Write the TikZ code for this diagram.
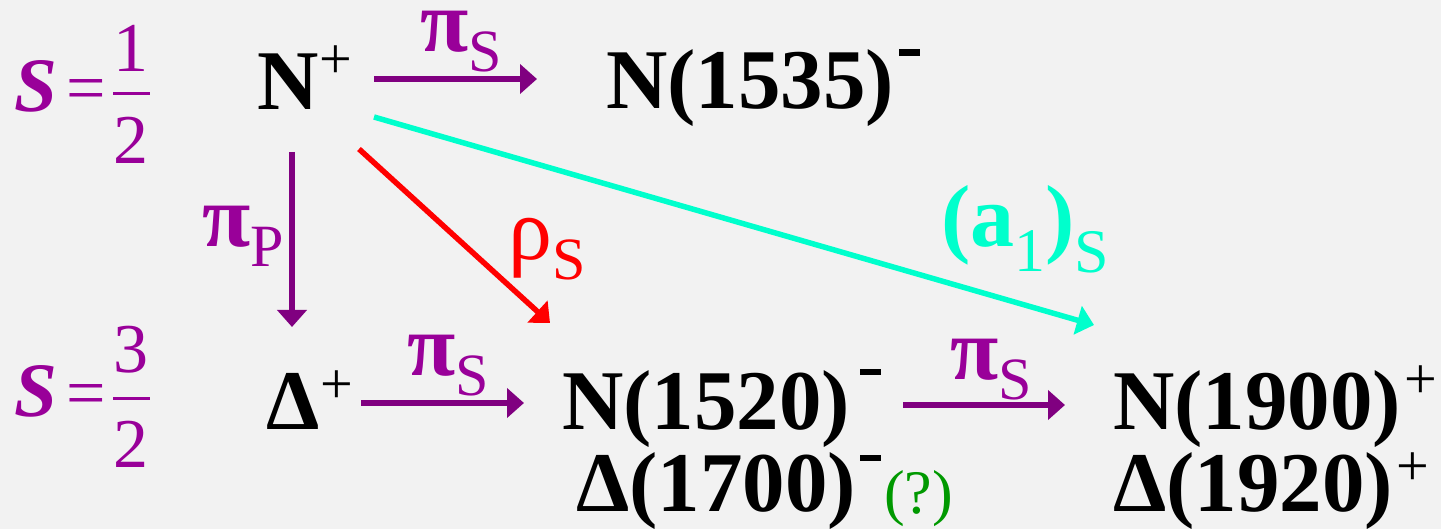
\documentclass[tikz,border=0pt]{standalone}
\usepackage{fontspec}
\setmainfont{Liberation Serif}
\usetikzlibrary{arrows.meta}
\definecolor{bg}{HTML}{F2F2F2}
\definecolor{lblpurple}{HTML}{990099}
\definecolor{arrpurple}{HTML}{800080}
\definecolor{cyanc}{HTML}{00FFCC}
\definecolor{redc}{HTML}{FF0000}
\definecolor{greenc}{HTML}{009900}
\newcommand\partfont{\fontsize{85}{90}\selectfont\bfseries}
\newcommand\supplus[3]{\kern#3pt\raisebox{#2pt}{\fontsize{#1}{#1}\selectfont\mdseries +}}
\newcommand\supminus[2]{\kern#1pt\rule[#2pt]{21pt}{6.5pt}}
\newcommand\lsub[1]{\raisebox{-20pt}{\fontsize{60}{60}\selectfont\mdseries #1}}
\newcommand\spinS{{\fontsize{77}{80}\selectfont\bfseries\itshape S}}
\begin{document}
\begin{tikzpicture}[x=1pt,y=-1pt,
  part/.style={inner sep=0pt, anchor=base west, font=\partfont},
  lbl/.style={inner sep=0pt, anchor=base west, font=\fontsize{88}{90}\selectfont},
  spin/.style={inner sep=0pt, text=lblpurple, font=\fontsize{70}{72}\selectfont},
  arr/.style={line width=5.5pt, -{Triangle[length=17pt,width=29pt]}},
]
\fill[bg] (0,0) rectangle (1441,529);
\useasboundingbox (0,0) rectangle (1441,529);

% spin labels
\node[spin, anchor=base west] (s1) at (14,112) {\spinS\kern9pt=};
\node[spin, anchor=base] (n1) at (131,72) {1};
\node[spin, anchor=base] (d1) at (131,164) {2};
\draw[lblpurple, line width=3pt] (113,94) -- (150,94);
\node[spin, anchor=base west] (s3) at (14,416) {\spinS\kern9pt=};
\node[spin, anchor=base] (n3) at (131,373) {3};
\node[spin, anchor=base] (d3) at (131,467) {2};
\draw[lblpurple, line width=3pt] (113,398) -- (150,398);

% particles
\node[part] (Np) at (257,110) {N\supplus{58}{31}{1}};
\node[part] (N1535) at (606,109) {N(1535)\supminus{5}{53}};
\node[part] (Dp) at (266,429) {Δ\supplus{58}{26}{1}};
\node[part] (N1520) at (562,429) {N(1520)\supminus{10}{54}};
\node[part] (D1700) at (576,511) {Δ(1700)\supminus{4}{50}};
\node[inner sep=0pt, anchor=base west, text=greenc, font=\fontsize{62}{64}\selectfont] (q) at (884,513) {(?)};
\node[part] (N1900) at (1113,429) {N(1900)\supplus{58}{31}{3}};
\node[part] (D1920) at (1113,511) {Δ(1920)\supplus{58}{26}{3}};

% arrows
\draw[arr, arrpurple] ([shift={(117,-31)}]Np.base west) -- ([shift={(-69,-30)}]N1535.base west);
\draw[arr, arrpurple] ([shift={(35,42)}]Np.base west) -- ([shift={(26,-102)}]Dp.base west);
\draw[arr, redc] ([shift={(102,39)}]Np.base west) -- ([shift={(-12,-106)}]N1520.base west);
\draw[arr, cyanc] ([shift={(117,7)}]Np.base west) -- ([shift={(-19,-104)}]N1900.base west);
\draw[arr, arrpurple] ([shift={(95,-26)}]Dp.base west) -- ([shift={(-38,-26)}]N1520.base west);
\draw[arr, arrpurple] ([shift={(341,-24)}]N1520.base west) -- ([shift={(-48,-24)}]N1900.base west);

% arrow labels
\node[lbl, text=lblpurple, text height=44pt] (l1) at (420,52) {\textbf{π}\lsub{S}};
\node[lbl, text=lblpurple] (l2) at (202,247) {\textbf{π}\lsub{P}};
\node[lbl, text=redc] (l3) at (508,260) {ρ\lsub{S}};
\node[lbl, text=cyanc] (l4) at (941,247) {\textbf{(a}\raisebox{-25pt}{\fontsize{62}{62}\selectfont 1}\textbf{)}\raisebox{-26pt}{\fontsize{62}{62}\selectfont S}};
\node[lbl, text=lblpurple] (l5) at (407,376) {\textbf{π}\lsub{S}};
\node[lbl, text=lblpurple] (l6) at (950,380) {\textbf{π}\lsub{S}};
\end{tikzpicture}
\end{document}
